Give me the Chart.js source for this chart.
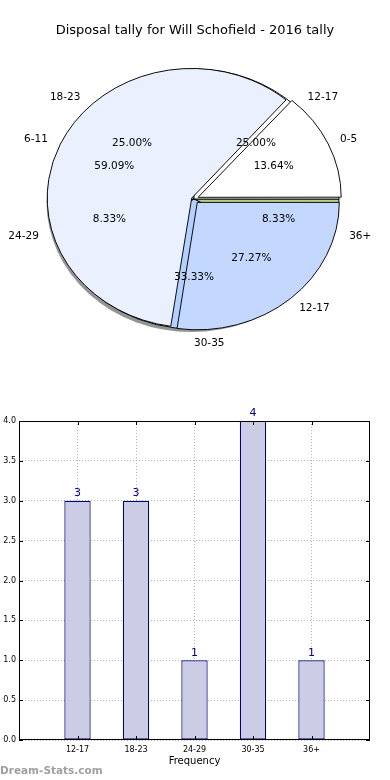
<!DOCTYPE html>
<html><head><meta charset="utf-8">
<script src="https://cdn.jsdelivr.net/npm/chart.js@4"></script>
<style>
html,body{margin:0;padding:0;background:#fff;}
#wrap{position:relative;width:390px;height:780px;overflow:hidden;font-family:"DejaVu Sans",sans-serif;}
.abs{position:absolute;left:0;}
#title{top:22px;width:390px;text-align:center;font-size:13px;line-height:16px;color:#000;}
#wm{top:763px;left:0;font-size:10.5px;font-weight:bold;color:#a0a0a0;line-height:14px;}
</style></head><body>
<div id="wrap">
 <canvas id="pieB" class="abs" style="top:0" width="390" height="400"></canvas>
 <canvas id="pieA" class="abs" style="top:0" width="390" height="400"></canvas>
 <div id="title" class="abs">Disposal tally for Will Schofield - 2016 tally</div>
 <canvas id="bar" class="abs" style="top:400px" width="390" height="380"></canvas>
 <div id="wm" class="abs">Dream-Stats.com</div>
</div>
<script>
// ---- data ----
const pieTopLabels = ['0-5', '6-11', '12-17'];
const pieTopValues = [3, 13, 6];
const pieUnderLabels = ['12-17', '18-23', '24-29', '30-35', '36+'];
const pieUnderValues = [3, 3, 1, 4, 1];
const barCategories = ['12-17', '18-23', '24-29', '30-35', '36+'];
const barValues = [3, 3, 1, 4, 1];

// ---- styles ----
const pieTopColors = ['#ffffff', '#eaf0fe', '#c4d8ff'];
const pieTopOffsets = [18, 10, 20];
const pieUnderColors = ['#ffffff', '#eaf0fe', '#eaf0fe', '#b4d0ff', '#b8cf8c'];
const SY = 0.897;
const FONT = '"DejaVu Sans", sans-serif';

const rev = a => a.slice().reverse();

function ellipsePlugin(withShadow) {
  return {
    id: 'ellipse' + (withShadow ? 'S' : ''),
    beforeDatasetsDraw(chart) {
      const arc = chart.getDatasetMeta(0).data[0];
      const ctx = chart.ctx;
      if (withShadow) {
        ctx.save();
        ctx.translate(arc.x, arc.y);
        ctx.scale(1, SY);
        ctx.beginPath();
        ctx.arc(-2.5, 3 / SY, arc.outerRadius, 0, Math.PI * 2);
        ctx.fillStyle = 'rgba(60,60,60,0.55)';
        ctx.fill();
        ctx.restore();
      }
      ctx.save();
      ctx.translate(arc.x, arc.y);
      ctx.scale(1, SY);
      ctx.translate(-arc.x, -arc.y);
    },
    afterDatasetsDraw(chart) { chart.ctx.restore(); }
  };
}

const LABEL_R = 146;
function drawPieLabels(ctx, meta, labels, values) {
  const total = values.reduce((a, b) => a + b, 0);
  const n = labels.length;
  ctx.save();
  ctx.font = '10.5px ' + FONT;
  ctx.fillStyle = '#000';
  ctx.textBaseline = 'middle';
  meta.data.forEach((arc, j) => {
    const i = n - 1 - j; // data was reversed for counter-clockwise order
    const mid = (arc.startAngle + arc.endAngle) / 2;
    const c = Math.cos(mid), s = Math.sin(mid);
    const r = LABEL_R;
    ctx.textAlign = c >= -1e-6 ? 'left' : 'right';
    ctx.fillText(labels[i], arc.x + 1.1 * r * c, arc.y + 1.1 * r * s * SY);
    ctx.textAlign = 'center';
    ctx.fillText((values[i] / total * 100).toFixed(2) + '%', arc.x + 0.6 * r * c, arc.y + 0.6 * r * s * SY);
  });
  ctx.restore();
}

function pieOptions(radius) {
  return {
    responsive: false,
    animation: false,
    events: [],
    rotation: 90,
    radius: radius,
    layout: { padding: { left: 0, right: 2, top: 0, bottom: 2 } },
    plugins: { legend: { display: false }, tooltip: { enabled: false } }
  };
}

const underChart = new Chart(document.getElementById('pieB'), {
  type: 'pie',
  options: pieOptions(145),
  data: {
    labels: rev(pieUnderLabels),
    datasets: [{
      data: rev(pieUnderValues),
      backgroundColor: rev(pieUnderColors),
      borderColor: '#000', borderWidth: 1, offset: 0
    }]
  },
  plugins: [ellipsePlugin(true)]
});

new Chart(document.getElementById('pieA'), {
  type: 'pie',
  options: pieOptions(142),
  data: {
    labels: rev(pieTopLabels),
    datasets: [{
      data: rev(pieTopValues),
      backgroundColor: rev(pieTopColors),
      borderColor: '#000', borderWidth: 1, offset: rev(pieTopOffsets)
    }]
  },
  plugins: [ellipsePlugin(false), {
    id: 'allLabels',
    afterDraw(chart) {
      drawPieLabels(chart.ctx, underChart.getDatasetMeta(0), pieUnderLabels, pieUnderValues);
      drawPieLabels(chart.ctx, chart.getDatasetMeta(0), pieTopLabels, pieTopValues);
    }
  }]
});

// ---- bar chart ----
const gridGray = '#b4b4b4';
const barFrame = {
  id: 'barFrame',
  afterDraw(chart) {
    const { ctx, chartArea: a, scales: { x, y } } = chart;
    ctx.save();
    ctx.strokeStyle = '#000';
    ctx.lineWidth = 1;
    ctx.strokeRect(Math.round(a.left) + 0.5, Math.round(a.top) + 0.5, Math.round(a.right - a.left) - 1, Math.round(a.bottom - a.top) - 1);
    ctx.beginPath();
    y.ticks.forEach(t => {
      const py = Math.round(y.getPixelForValue(t.value)) + 0.5;
      ctx.moveTo(a.left, py); ctx.lineTo(a.left + 4, py);
      ctx.moveTo(a.right, py); ctx.lineTo(a.right - 4, py);
    });
    barCategories.forEach((c, i) => {
      const px = Math.round(x.getPixelForValue(i)) + 0.5;
      ctx.moveTo(px, a.bottom); ctx.lineTo(px, a.bottom - 4);
      ctx.moveTo(px, a.top); ctx.lineTo(px, a.top + 4);
    });
    ctx.stroke();
    const meta = chart.getDatasetMeta(0);
    ctx.font = '11px ' + FONT;
    ctx.fillStyle = '#00008b';
    ctx.textAlign = 'center';
    ctx.textBaseline = 'bottom';
    meta.data.forEach((bar, i) => {
      ctx.fillText(String(barValues[i]), bar.x, bar.y - 2);
    });
    ctx.restore();
  }
};

new Chart(document.getElementById('bar'), {
  type: 'bar',
  data: {
    datasets: [{
      data: barValues.map((v, i) => ({ x: i, y: v })),
      backgroundColor: '#cccce4',
      borderColor: '#00007a',
      borderWidth: 1.2,
      borderSkipped: false,
      barPercentage: 0.45,
      categoryPercentage: 1
    }]
  },
  options: {
    responsive: false,
    animation: false,
    events: [],
    layout: { padding: { top: 21, right: 20, left: 0, bottom: 0 } },
    plugins: { legend: { display: false }, tooltip: { enabled: false } },
    scales: {
      x: {
        type: 'linear',
        offset: false,
        min: -1, max: 5,
        afterFit: s => { s.height = 40; },
        grid: {
          offset: false,
          drawTicks: false,
          color: c => (c.tick && c.tick.value >= 0 && c.tick.value < barCategories.length) ? gridGray : 'rgba(0,0,0,0)',
          lineWidth: 1
        },
        border: { display: false, dash: [1, 2] },
        ticks: {
          stepSize: 1, autoSkip: false, maxRotation: 0, padding: 5,
          font: { size: 8, family: FONT }, color: '#000',
          callback: v => barCategories[v] !== undefined ? barCategories[v] : ''
        },
        title: {
          display: true, text: 'Frequency',
          font: { size: 10, family: FONT }, color: '#000',
          padding: { top: 0, bottom: 13 }
        }
      },
      y: {
        min: 0, max: 4,
        afterFit: s => { s.width = 19; },
        grid: { drawTicks: false, color: gridGray, lineWidth: 1 },
        border: { display: false, dash: [1, 2] },
        ticks: {
          stepSize: 0.5, padding: 3,
          font: { size: 8, family: FONT }, color: '#000',
          callback: v => Number(v).toFixed(1)
        }
      }
    }
  },
  plugins: [barFrame]
});
</script>
</body></html>
